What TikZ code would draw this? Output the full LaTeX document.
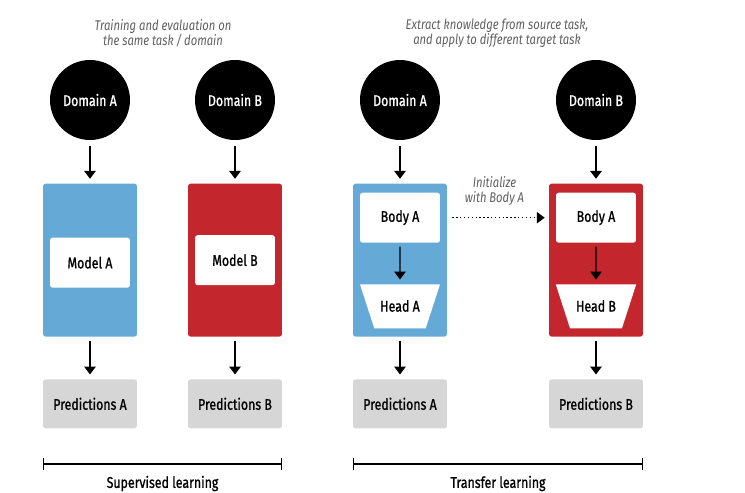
\documentclass[tikz,border=0pt]{standalone}
\usepackage{fontspec}
\setmainfont{Fira Sans}[FakeStretch=0.8]
\newfontfamily\labelfont{Fira Sans}[FakeStretch=0.8, FakeBold=1.0]
\definecolor{modelblue}{RGB}{101,169,215}
\definecolor{modelred}{RGB}{196,38,46}
\definecolor{predgray}{RGB}{214,214,214}
\definecolor{notegray}{RGB}{95,95,95}
\usetikzlibrary{positioning, arrows.meta, shapes.geometric}
\tikzset{
x=0.02cm, y=-0.02cm, % one unit is one pixel of the sketch
>={Triangle[width=6.5pt,length=4.5pt]}, % makes the arrow heads filled triangles
dataset/.style={circle, fill=black, text=white, minimum size=1.6cm, inner sep=0pt}, % the data sources
modelbox/.style={rounded corners=1.5pt, minimum width=1.88cm, minimum height=3.06cm}, % the coloured model frames
block/.style={fill=white, rounded corners=1.5pt, minimum width=1.6cm, minimum height=1.0cm}, % model and body blocks
taskhead/.style={trapezium, trapezium stretches=false, shape border rotate=180, trapezium angle=72, fill=white, text height=6pt, text depth=0pt, inner xsep=3.4pt, inner ysep=9.5pt}, % the task heads
pred/.style={fill=predgray, rounded corners=1.5pt, minimum width=1.88cm, minimum height=0.98cm}, % the outputs
remark/.style={align=center, text=notegray, font=\fontsize{8}{8.6}\selectfont\normalfont\itshape}, % grey remarks
flow/.style={->, line width=0.8pt, shorten <=0.07cm, shorten >=0.09cm}, % solid arrows
initflow/.style={->, line width=0.8pt, dash pattern=on 0.8pt off 1.4pt, shorten <=0.24cm, shorten >=0.08cm}, % the dotted arrow
bracket/.style={{Bar[width=7pt]}-{Bar[width=7pt]}, line width=0.8pt} % brackets at the bottom
}

\begin{document}
\begin{tikzpicture}[font=\labelfont\fontsize{8.8}{9.6}\selectfont]
      \useasboundingbox (0,0) rectangle (745,493);

      \node[remark] (noteL) at (163,33) {Training and evaluation on\\the same task\,/\,domain};
      \node[remark] (noteR) at (497,33) {Extract knowledge from source task,\\and apply to different target task};

      \node[dataset] (domA) at (90,100) {Domain A};
      \node[dataset] (domB) at (235,100) {Domain B};
      \node[dataset] (domC) at (400,100) {Domain A};
      \node[dataset] (domD) at (596,100) {Domain B};

      \node[modelbox, fill=modelblue, below=0.86cm of domA] (boxA) {};
      \node[modelbox, fill=modelred, below=0.86cm of domB] (boxB) {};
      \node[modelbox, fill=modelblue, below=0.86cm of domC] (boxC) {};
      \node[modelbox, fill=modelred, below=0.86cm of domD] (boxD) {};

      \node[block, yshift=-0.05cm] (modelA) at (boxA) {Model A};
      \node[block] (modelB) at (boxB) {Model B};
      \node[block, below=0.18cm of boxC.north] (bodyC) {Body A};
      \node[block, below=0.18cm of boxD.north] (bodyD) {Body A};
      \node[taskhead, below=0.82cm of bodyC] (headC) {Head A};
      \node[taskhead, below=0.82cm of bodyD] (headD) {Head B};

      \node[pred, below=0.84cm of boxA] (predA) {Predictions A};
      \node[pred, below=0.84cm of boxB] (predB) {Predictions B};
      \node[pred, below=0.84cm of boxC] (predC) {Predictions A};
      \node[pred, below=0.84cm of boxD] (predD) {Predictions B};

      \draw[flow] (domA) edge[shorten <=0.12cm] (boxA)
      (domB) edge[shorten <=0.12cm] (boxB)
      (domC) edge[shorten <=0.12cm] (boxC)
      (domD) edge[shorten <=0.12cm] (boxD)
      (bodyC) edge (headC)
      (bodyD) edge (headD)
      (boxA) edge (predA)
      (boxB) edge (predB)
      (boxC) edge (predC)
      (boxD) edge (predD);

      \draw[initflow] (bodyC) -- (bodyC -| boxD.west)
      node[remark, midway, above=3pt] (initNote) {Initialize\\with Body A};

      \coordinate (supL) at (predA.west |- 0,464);
      \coordinate (supR) at (predB.east |- 0,464);
      \coordinate (trL) at (predC.west |- 0,464);
      \coordinate (trR) at (predD.east |- 0,464);
      \draw[bracket] (supL) -- node[below=3pt] (supText) {Supervised learning} (supR);
      \draw[bracket] (trL) -- node[below=3pt] (trText) {Transfer learning} (trR);
    \end{tikzpicture}
\end{document}
